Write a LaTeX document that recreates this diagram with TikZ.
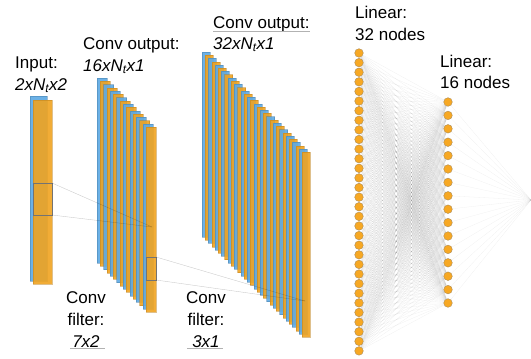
\documentclass[tikz,border=0pt]{standalone}
\usepackage{fontspec}
\setmainfont{Liberation Sans}
\usepackage{tikz}
\usetikzlibrary{positioning,backgrounds}

\definecolor{mapblue}{RGB}{95,170,228}
\definecolor{maporange}{RGB}{240,163,32}
\definecolor{nodeorange}{RGB}{247,168,35}
\definecolor{nodeedge}{RGB}{170,140,90}

\tikzset{
  bluemap/.style={fill=mapblue, draw=mapblue!75!black, line width=0.3pt, fill opacity=0.92, draw opacity=0.5},
  orangemap/.style={fill=maporange, draw=maporange!80!black, line width=0.3pt, fill opacity=0.9, draw opacity=0.5},
  filterbox/.style={draw=black!55, line width=0.4pt},
  filterline/.style={black, opacity=0.2, line width=0.4pt},
  neuron/.style={circle, fill=nodeorange, draw=nodeedge, line width=0.4pt, minimum size=8.6pt, inner sep=0pt},
  wire/.style={black, opacity=0.06, line width=0.3pt},
  rule/.style={black!30, line width=0.5pt},
  lbl/.style={font=\fontsize{17}{22}\selectfont, inner sep=0pt, anchor=base west},
  flbl/.style={font=\fontsize{17}{22}\selectfont, inner sep=0pt, anchor=base},
}

\begin{document}
\begin{tikzpicture}[x=1pt, y=-1pt]
    \useasboundingbox (0,0) rectangle (531,359);

    % input: two channels
    \draw[bluemap] (30,96) rectangle ++(17,185);
    \draw[orangemap] (33,100) rectangle ++(19,184);

    % conv output 16
    \foreach \i in {0,...,7} {
      \draw[bluemap] (97+6.54*\i,78+6.54*\i) rectangle ++(10,185);
      \draw[orangemap] (100.27+6.54*\i,81.27+6.54*\i) rectangle ++(10,185);
    }

    % conv output 32
    \foreach \i in {0,...,15} {
      \draw[bluemap] (202+6.46*\i,52+6.46*\i) rectangle ++(8,185);
      \draw[orangemap] (205.23+6.46*\i,55.23+6.46*\i) rectangle ++(8,185);
    }

    % filters
    \coordinate (f1nw) at (33,183);
    \coordinate (f1ne) at (52,183);
    \coordinate (f1se) at (52,215);
    \coordinate (f1hit) at (152,227);
    \draw[filterbox] (f1nw) rectangle (f1se);
    \draw[filterline] (f1ne) -- (f1hit);
    \draw[filterline] (f1se) -- (f1hit);

    \coordinate (f2nw) at (146,257);
    \coordinate (f2ne) at (156,257);
    \coordinate (f2se) at (156,280);
    \coordinate (f2hit) at (305,301);
    \draw[filterbox] (f2nw) rectangle (f2se);
    \draw[filterline] (f2ne) -- (f2hit);
    \draw[filterline] (f2se) -- (f2hit);

    % linear layers
    \foreach \i in {1,...,32} \node[neuron] (a\i) at (359,53+9.61*\i-9.61) {};
    \foreach \j in {1,...,16} \node[neuron] (b\j) at (448,102+13.4*\j-13.4) {};
    \coordinate (out) at (531,200);

    \begin{scope}[on background layer]
      \foreach \i in {1,...,32}
        \foreach \j in {1,...,16} \draw[wire] (a\i) -- (b\j);
      \foreach \j in {1,...,16} \draw[wire] (b\j) -- (out);
    \end{scope}

    % labels
    \node[lbl] (inname) at (15,68) {Input:};
    \node[lbl] (indim) at (15,90) {\textit{2xN\textsubscript{t}x2}};
    \node[lbl] (c1name) at (83,49) {Conv output:};
    \node[lbl] (c1dim) at (83,71) {\textit{16xN\textsubscript{t}x1}};
    \node[lbl] (c2name) at (213,28) {Conv output:};
    \node[lbl] (c2dim) at (213,49) {\textit{32xN\textsubscript{t}x1}};
    \node[lbl] (l1name) at (355,18) {Linear:};
    \node[lbl] (l1size) at (355,40) {32 nodes};
    \node[lbl] (l2name) at (440,67) {Linear:};
    \node[lbl] (l2size) at (440,88) {16 nodes};

    \node[flbl] (k1a) at (86,303) {Conv};
    \node[flbl] (k1b) at (86,325) {filter:};
    \node[flbl] (k1c) at (86,347) {\textit{7x2}};
    \node[flbl] (k2a) at (206,303) {Conv};
    \node[flbl] (k2b) at (206,325) {filter:};
    \node[flbl] (k2c) at (206,347) {\textit{3x1}};

    % text box rules
    \draw[rule] (c2name.south west) -- (c2name.south east);
    \draw[rule] (70,348) -- (105,348);
    \draw[rule] (187,348) -- (223,348);
\end{tikzpicture}
\end{document}
